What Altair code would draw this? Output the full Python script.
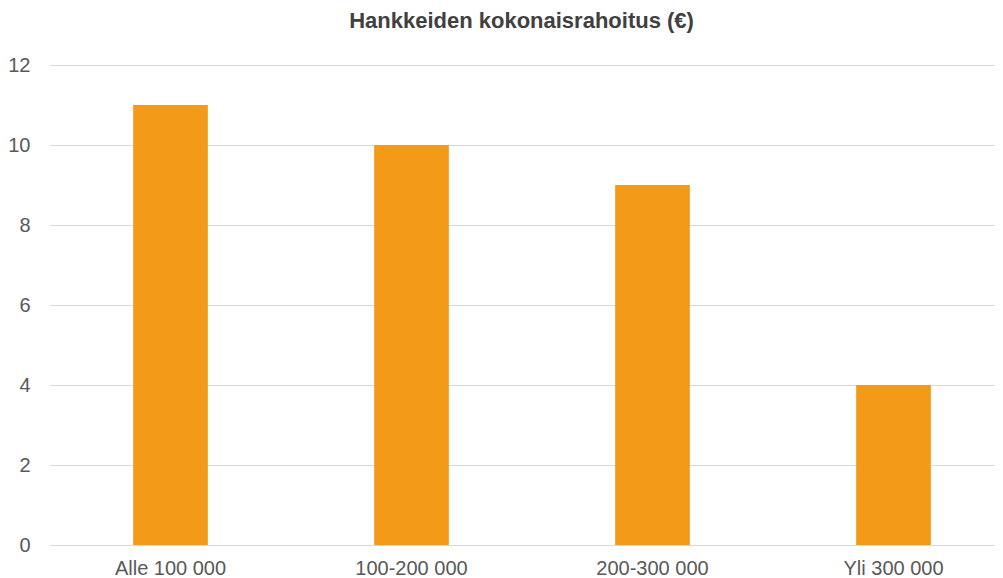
import altair as alt
import pandas as pd

categories = ["Alle 100 000", "100-200 000", "200-300 000", "Yli 300 000"]
values = [11, 10, 9, 4]
y_ticks = [0, 2, 4, 6, 8, 10, 12]

df = pd.DataFrame({"cat": categories, "v": values})

FONT = "Liberation Sans"

chart = alt.Chart(df).mark_bar(color="#F39B19").encode(
    x=alt.X("cat:N", sort=categories,
            scale=alt.Scale(range=[2, 966], paddingInner=0.69, paddingOuter=0.345),
            axis=alt.Axis(title=None, labelAngle=0, domain=False, ticks=False,
                          labelFont=FONT, labelFontSize=20, labelColor="#595959",
                          labelPadding=13)),
    y=alt.Y("v:Q", scale=alt.Scale(domain=[0, 12]),
            axis=alt.Axis(values=y_ticks, title=None, domain=False, ticks=False,
                          gridColor="#D9D9D9", gridWidth=1,
                          labelFont=FONT, labelFontSize=20, labelColor="#595959",
                          labelPadding=18)),
).properties(
    width=947, height=480,
    title=alt.Title("Hankkeiden kokonaisrahoitus (€)", font=FONT, fontSize=22,
                    fontWeight="bold", color="#404040", offset=22, anchor="middle"),
    padding={"left": 40, "top": 57, "right": 0, "bottom": 40},
    autosize="none",
).configure_view(stroke=None)

chart.save("out.html", embed_options={"renderer": "svg", "actions": False})
